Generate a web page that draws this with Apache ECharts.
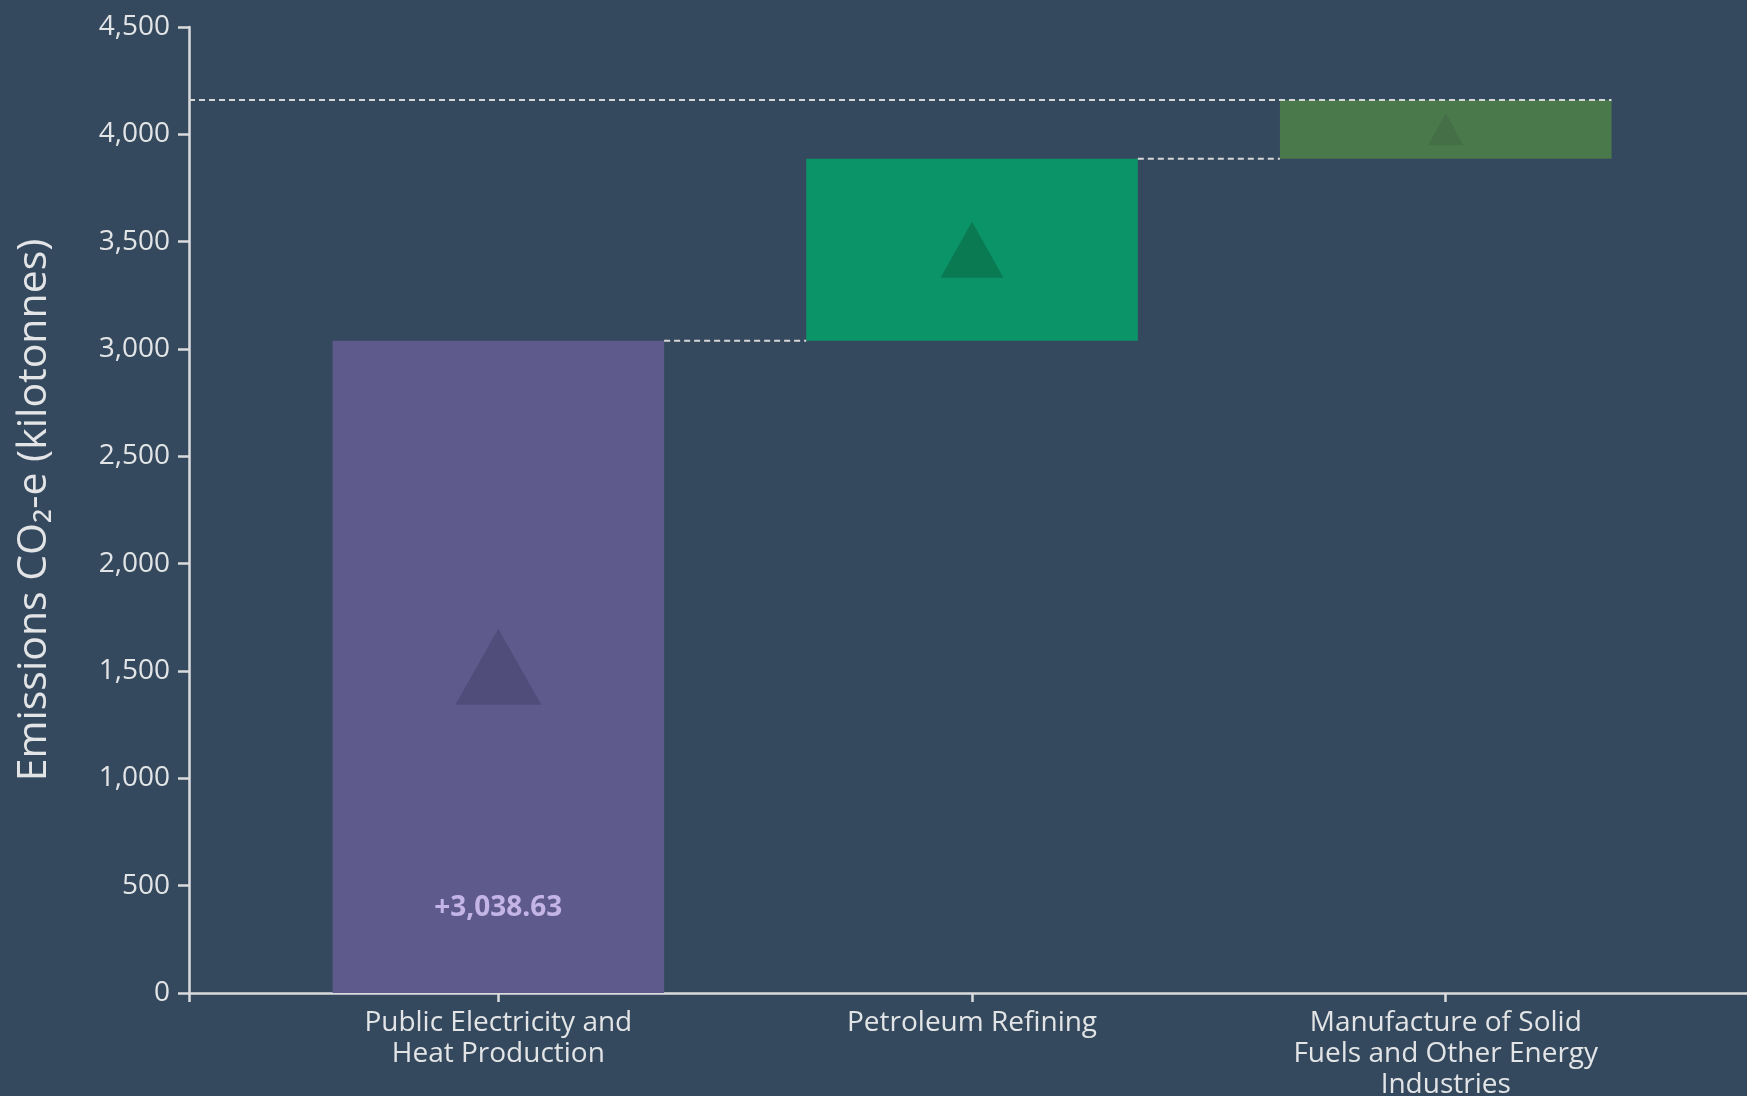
<!DOCTYPE html>
<html>
<head>
<meta charset="utf-8">
<style>
  html, body { margin: 0; padding: 0; background: #34495e; }
  #chart { width: 1747px; height: 1096px; }
</style>
<script src="https://cdn.jsdelivr.net/npm/echarts@6/dist/echarts.min.js"></script>
</head>
<body>
<div id="chart"></div>
<script>
// Sector names (as wrapped axis labels)
const categories = [
  'Public Electricity and\nHeat Production',
  'Petroleum Refining',
  'Manufacture of Solid\nFuels and Other Energy\nIndustries'
];
// Emission increase per sector (kilotonnes CO2-e)
const increments = [3038.63, 847.6, 274.0];
// Values shown as text on bars (null = no label)
const barLabels = [3038.63, null, null];
// Y-axis tick values
const yTicks = [0, 500, 1000, 1500, 2000, 2500, 3000, 3500, 4000, 4500];

// Per-bar styling
const barColors = ['#5f5a8c', '#0b9467', '#4a7a4b'];
const arrowColors = ['#514d7a', '#0a7a53', '#446f47'];
const arrowSizes = [[86, 76], [63, 56], [35, 32]];

const X_MIN = -0.653, X_MAX = 2.636, HALF = 0.35;

// Running totals: each bar spans [base, end]
const rows = [];
let running = 0;
increments.forEach((v, i) => {
  rows.push([i, running, running + v]);
  running += v;
});

function fmt(v) {
  return (v >= 0 ? '+' : '') + v.toLocaleString('en-US', { minimumFractionDigits: 2, maximumFractionDigits: 2 });
}

const chart = echarts.init(document.getElementById('chart'), null, { renderer: 'canvas' });

const axisColor = '#dadbdc';
const textColor = '#e2e4e6';
const font = '"Open Sans", "Noto Sans", sans-serif';

chart.setOption({
  backgroundColor: '#34495e',
  animation: false,
  grid: { left: 189, right: 0, top: 27, bottom: 103, containLabel: false, outerBoundsMode: 'none' },
  xAxis: {
    type: 'value',
    min: X_MIN,
    max: X_MAX,
    splitLine: { show: false },
    axisLine: { show: true, onZero: false, lineStyle: { color: axisColor, width: 2.5 } },
    axisTick: { show: true, customValues: [X_MIN, 0, 1, 2], length: 9, lineStyle: { color: axisColor, width: 2.5 } },
    axisLabel: {
      customValues: [0, 1, 2],
      formatter: v => categories[Math.round(v)],
      color: textColor,
      fontFamily: font,
      fontSize: 28,
      lineHeight: 31,
      margin: 15
    }
  },
  yAxis: {
    type: 'value',
    min: yTicks[0],
    max: yTicks[yTicks.length - 1],
    interval: yTicks[1] - yTicks[0],
    splitLine: { show: false },
    axisLine: { show: true, onZero: false, lineStyle: { color: axisColor, width: 2.5 } },
    axisTick: { show: true, length: 11, lineStyle: { color: axisColor, width: 2.5 } },
    axisLabel: {
      formatter: v => v.toLocaleString('en-US'),
      color: textColor,
      fontFamily: font,
      fontSize: 28,
      margin: 19
    },
    name: 'Emissions CO\u2082-e (kilotonnes)',
    nameLocation: 'middle',
    nameRotate: 90,
    nameGap: 134,
    nameTextStyle: { color: textColor, fontFamily: font, fontSize: 41 }
  },
  series: [{
    type: 'custom',
    data: rows,
    encode: { x: 0, y: [1, 2] },
    clip: false,
    renderItem(params, api) {
      const i = api.value(0), base = api.value(1), end = api.value(2);
      const tl = api.coord([i - HALF, end]);
      const br = api.coord([i + HALF, base]);
      const mid = api.coord([i, (base + end) / 2]);
      const [tw, th] = arrowSizes[i];
      const children = [
        {
          type: 'rect',
          shape: { x: tl[0], y: tl[1], width: br[0] - tl[0], height: br[1] - tl[1] },
          style: { fill: barColors[i] }
        },
        {
          type: 'polygon',
          shape: { points: [
            [mid[0], mid[1] - th / 2],
            [mid[0] + tw / 2, mid[1] + th / 2],
            [mid[0] - tw / 2, mid[1] + th / 2]
          ] },
          style: { fill: arrowColors[i] }
        }
      ];
      if (barLabels[i] != null) {
        children.push({
          type: 'text',
          x: mid[0],
          y: br[1] - 85,
          style: {
            text: fmt(barLabels[i]),
            fill: '#c4b5e6',
            font: 'bold 28px ' + font,
            align: 'center',
            verticalAlign: 'middle'
          }
        });
      }
      const dash = { stroke: '#d4d6d8', lineWidth: 2, lineDash: [6, 4] };
      // connector from the previous bar's right edge to this bar's left edge
      if (i > 0) {
        const a = api.coord([i - 1 + HALF, base]);
        const b = api.coord([i - HALF, base]);
        children.push({ type: 'line', shape: { x1: a[0], y1: a[1], x2: b[0], y2: b[1] }, style: dash, z2: 10 });
      }
      // running-total line across to the final bar
      if (i === rows.length - 1) {
        const a = api.coord([X_MIN, end]);
        const b = api.coord([i + HALF, end]);
        children.push({ type: 'line', shape: { x1: a[0], y1: a[1], x2: b[0], y2: b[1] }, style: dash, z2: 10 });
      }
      return { type: 'group', children };
    }
  }]
});
</script>
</body>
</html>
